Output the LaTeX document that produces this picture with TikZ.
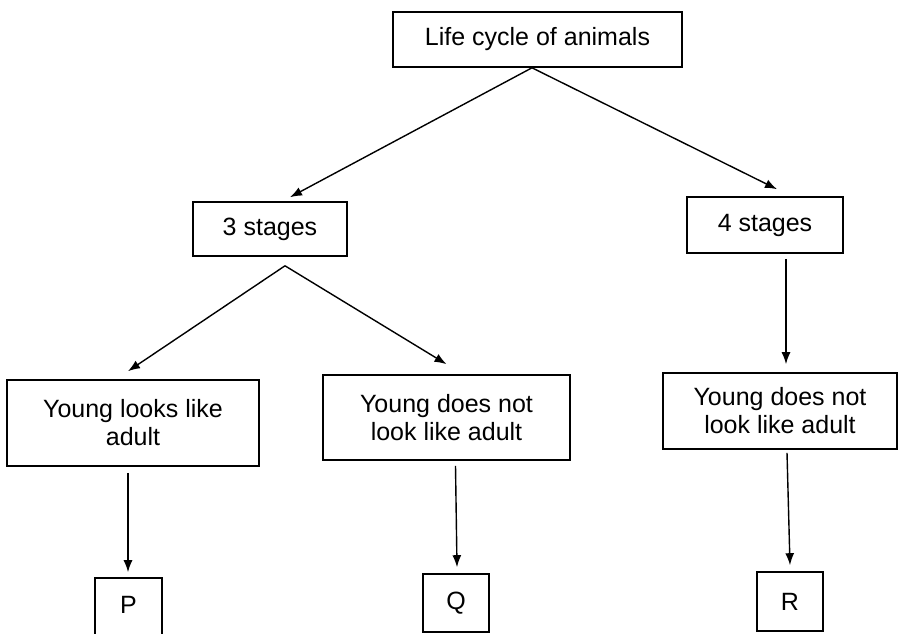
\documentclass[tikz,border=0pt]{standalone}
\usepackage{fontspec}
\setmainfont{Liberation Sans}
\usetikzlibrary{arrows.meta}
\begin{document}
\begin{tikzpicture}[x=1pt,y=-1pt,
  box/.style={draw=black, line width=1.6pt, inner sep=2pt, align=center,
    font=\fontsize{25}{28}\selectfont},
  arr/.style={draw=black, line width=1.4pt, -{Latex[length=12pt,width=9pt]}}]
\clip (0,0) rectangle (899,634);
\fill[white] (0,0) rectangle (899,634);
% nodes
\node[box, minimum width=289pt, minimum height=55pt] (top) at (537.5,39.5) {Life cycle of animals};
\node[box, minimum width=154pt, minimum height=54pt] (s3) at (270,229) {3 stages};
\node[box, minimum width=156pt, minimum height=56pt] (s4) at (765,225) {4 stages};
\node[box, minimum width=252pt, minimum height=86pt] (y1) at (133,423) {Young looks like\\adult};
\node[box, minimum width=247pt, minimum height=85pt] (y2) at (446.5,417.5) {Young does not\\look like adult};
\node[box, minimum width=234pt, minimum height=76pt] (y3) at (780,411) {Young does not\\look like adult};
\node[box, minimum width=67pt, minimum height=62pt] (p) at (128.5,609) {\raisebox{9pt}{P}};
\node[box, minimum width=66pt, minimum height=58pt] (q) at (456,603) {Q};
\node[box, minimum width=66pt, minimum height=59pt] (r) at (790,601.5) {R};
% connectors
\draw[arr] ([xshift=-5.5pt]top.south) -- ([xshift=20pt,yshift=4pt]s3.north);
\draw[arr] ([xshift=-5.5pt]top.south) -- ([xshift=12pt,yshift=7pt]s4.north);
\draw[arr] ([xshift=15pt,yshift=-9pt]s3.south) -- ([xshift=-5pt,yshift=8pt]y1.north);
\draw[arr] ([xshift=15pt,yshift=-9pt]s3.south) -- ([yshift=10pt]y2.north);
\draw[arr] ([xshift=21pt,yshift=-5pt]s4.south) -- ([xshift=6pt,yshift=8pt]y3.north);
\draw[arr] ([xshift=-5pt,yshift=-6pt]y1.south) -- ([xshift=-0.5pt,yshift=5pt]p.north);
\draw[arr] ([xshift=9pt,yshift=-5pt]y2.south) -- ([xshift=1pt,yshift=6pt]q.north);
\draw[arr] ([xshift=7pt,yshift=-3pt]y3.south) -- ([yshift=6pt]r.north);
\end{tikzpicture}
\end{document}
